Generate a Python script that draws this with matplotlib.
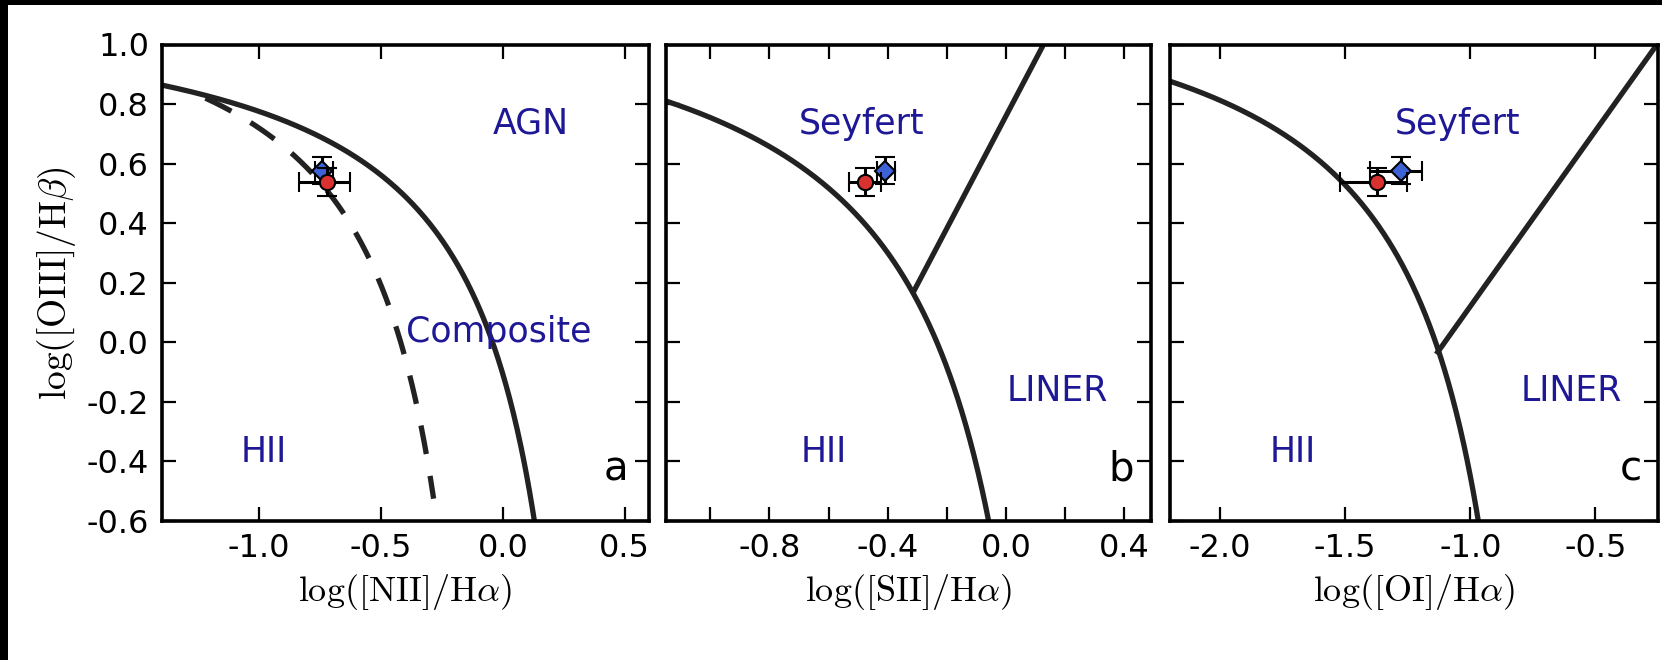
import numpy as np
import matplotlib
matplotlib.use("Agg")
import matplotlib.pyplot as plt
from matplotlib.patches import Rectangle

plt.rcParams['font.family'] = 'DejaVu Sans'
plt.rcParams['mathtext.fontset'] = 'cm'
plt.rcParams['axes.unicode_minus'] = False

# classification lines: y = a / (x - b) + c
kewley_nii = (0.61, 0.47, 1.19)
kauffmann_nii = (0.61, 0.05, 1.30)
kewley_sii = (0.72, 0.32, 1.30)
kewley_oi = (0.73, -0.59, 1.33)
# Seyfert / LINER lines: y = m * x + q
seyliner_sii = (1.89, 0.76)
seyliner_oi = (1.18, 1.30)

panel_tags = ['a', 'b', 'c']
x_labels = [r'$\log([\mathrm{NII}]/\mathrm{H}\alpha)$',
            r'$\log([\mathrm{SII}]/\mathrm{H}\alpha)$',
            r'$\log([\mathrm{OI}]/\mathrm{H}\alpha)$']
y_label = r'$\log([\mathrm{OIII}]/\mathrm{H}\beta)$'
xlims = [(-1.4, 0.6), (-1.15, 0.49), (-2.2, -0.25)]
ylim = (-0.6, 1.0)
xticks_major = [[-1.0, -0.5, 0.0, 0.5], [-0.8, -0.4, 0.0, 0.4], [-2.0, -1.5, -1.0, -0.5]]
xticks_minor = [[], [-1.0, -0.6, -0.2, 0.2], []]
yticks = [-0.6, -0.4, -0.2, 0.0, 0.2, 0.4, 0.6, 0.8, 1.0]

# measured ratios: red circle and blue diamond
red_x = [-0.721, -0.477, -1.371]
red_xerr_lo = [0.114, 0.053, 0.150]
red_xerr_hi = [0.095, 0.053, 0.119]
red_y = 0.537
red_yerr = 0.047
blue_x = [-0.742, -0.410, -1.278]
blue_xerr_lo = [0.028, 0.027, 0.122]
blue_xerr_hi = [0.046, 0.035, 0.086]
blue_y = 0.576
blue_yerr = 0.045

# region names per panel: (text, x, y)
regions = [
    [('AGN', 0.114, 0.733), ('Composite', -0.015, 0.034), ('HII', -0.982, -0.371)],
    [('Seyfert', -0.487, 0.733), ('LINER', 0.174, -0.164), ('HII', -0.616, -0.371)],
    [('Seyfert', -1.052, 0.733), ('LINER', -0.596, -0.164), ('HII', -1.71, -0.371)],
]
tag_pos = [(0.463, -0.428), (0.388, -0.428), (-0.36, -0.428)]

line_col = '#222222'
text_col = '#1e1896'


def hyper(x, p):
    a, b, c = p
    return a / (x - b) + c


fig = plt.figure(figsize=(16.62, 6.6), dpi=100)
fig.patches.append(Rectangle((0, 1 - 5 / 660), 1, 5 / 660, transform=fig.transFigure,
                             facecolor='black', edgecolor='none', zorder=-5))
fig.patches.append(Rectangle((0, 0), 8 / 1662, 1, transform=fig.transFigure,
                             facecolor='black', edgecolor='none', zorder=-5))

lefts = [161.6 / 1662, 665.9 / 1662, 1170 / 1662]
widths = [487.5 / 1662, 485 / 1662, 488 / 1662]
bottom = 1 - 520.6 / 660
height = 476.1 / 660
axes = [fig.add_axes([lefts[i], bottom, widths[i], height]) for i in range(3)]

for i, ax in enumerate(axes):
    lo, hi = xlims[i]
    if i == 0:
        xs = np.linspace(lo, 0.14, 400)
        ax.plot(xs, hyper(xs, kewley_nii), color=line_col, lw=3.8)
        xk = np.linspace(-1.22, -0.284, 300)
        ax.plot(xk, hyper(xk, kauffmann_nii), color=line_col, lw=3.8, dashes=(5.5, 4.2))
    elif i == 1:
        xs = np.linspace(lo, -0.05, 400)
        ax.plot(xs, hyper(xs, kewley_sii), color=line_col, lw=3.8)
        xl = np.linspace(-0.31, 0.14, 50)
        ax.plot(xl, seyliner_sii[0] * xl + seyliner_sii[1], color=line_col, lw=3.8)
    else:
        xs = np.linspace(lo, -0.96, 400)
        ax.plot(xs, hyper(xs, kewley_oi), color=line_col, lw=3.8)
        xl = np.linspace(-1.13, hi, 50)
        ax.plot(xl, seyliner_oi[0] * xl + seyliner_oi[1], color=line_col, lw=3.8)

    ax.errorbar(blue_x[i], blue_y, xerr=[[blue_xerr_lo[i]], [blue_xerr_hi[i]]], yerr=blue_yerr,
                fmt='D', color='black', mfc='#3d62d6', mec='black', mew=1.5, ms=10,
                elinewidth=2.2, capsize=7, capthick=2.2, zorder=5)
    ax.errorbar(red_x[i], red_y, xerr=[[red_xerr_lo[i]], [red_xerr_hi[i]]], yerr=red_yerr,
                fmt='o', color='black', mfc='#d93030', mec='black', mew=1.5, ms=11,
                elinewidth=2.2, capsize=7, capthick=2.2, zorder=6)

    for txt, tx, ty in regions[i]:
        ax.text(tx, ty, txt, color=text_col, fontsize=25, ha='center', va='center')
    ax.text(tag_pos[i][0], tag_pos[i][1], panel_tags[i], color='black', fontsize=29,
            ha='center', va='center')

    ax.set_xlim(lo, hi)
    ax.set_ylim(*ylim)
    ax.set_xticks(xticks_major[i])
    ax.set_xticklabels(['%.1f' % v for v in xticks_major[i]])
    if xticks_minor[i]:
        ax.set_xticks(xticks_minor[i], minor=True)
    ax.set_yticks(yticks)
    if i == 0:
        ax.set_yticklabels(['%.1f' % v for v in yticks])
        ax.set_ylabel(y_label, fontsize=27, labelpad=6)
    else:
        ax.set_yticklabels([])
    ax.tick_params(which='both', direction='in', top=True, right=True,
                   length=10, width=1.6, labelsize=23, pad=9)
    ax.set_xlabel(x_labels[i], fontsize=26, labelpad=6)
    for s in ax.spines.values():
        s.set_linewidth(2.6)

fig.savefig('out.png', dpi=100)
